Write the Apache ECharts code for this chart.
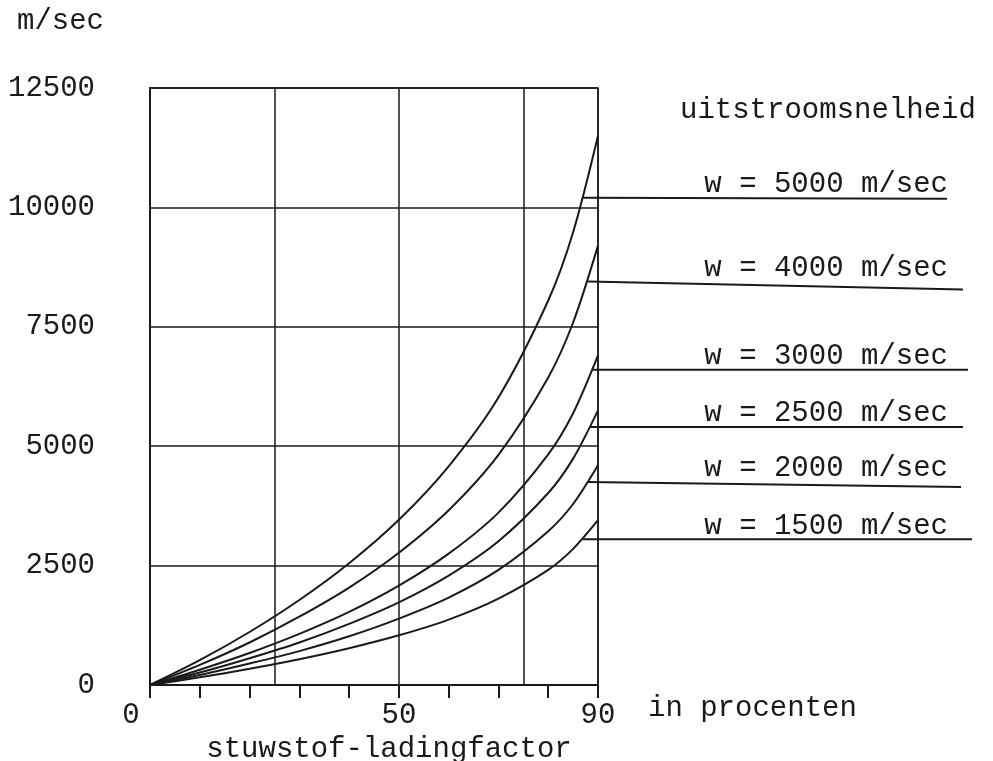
<!DOCTYPE html>
<html>
<head>
<meta charset="utf-8">
<script src="https://cdn.jsdelivr.net/npm/echarts@6/dist/echarts.min.js"></script>
<style>
  html, body { margin: 0; padding: 0; background: #fff; }
  #myChart { width: 993px; height: 761px; }
</style>
</head>
<body>
<div id="myChart"></div>
<script>
// stuwstof-ladingfactor in procenten
const loadFactor = [0, 10, 20, 30, 40, 50, 60, 70, 80, 85, 90]
const v5000 = [0, 520, 1110, 1780, 2550, 3460, 4580, 6020, 8050, 9480, 11500]
const v4000 = [0, 420, 890, 1430, 2040, 2770, 3660, 4820, 6440, 7590, 9200]
const v3000 = [0, 320, 670, 1070, 1530, 2080, 2750, 3610, 4830, 5690, 6900]
const v2500 = [0, 260, 560, 890, 1280, 1730, 2290, 3010, 4020, 4740, 5750]
const v2000 = [0, 210, 450, 710, 1020, 1390, 1830, 2410, 3220, 3790, 4600]
const v1500 = [0, 160, 340, 540, 770, 1040, 1370, 1810, 2410, 2850, 3450]
const seriesNames = ['w = 5000 m/sec', 'w = 4000 m/sec', 'w = 3000 m/sec', 'w = 2500 m/sec', 'w = 2000 m/sec', 'w = 1500 m/sec']
const seriesValues = [v5000, v4000, v3000, v2500, v2000, v1500]
// tick labels
const xTickLabels = [0, 50, 90]
const yTickLabels = [0, 2500, 5000, 7500, 10000, 12500]
// waar de verwijslijn de kromme raakt (x in %, y in m/sec)
const leaderX = [87, 88, 89, 88.5, 88, 87]
const leaderV = [10200, 8450, 6600, 5400, 4250, 3050]

const FONT = '"Liberation Mono", "DejaVu Sans Mono", monospace'
const INK = '#1a1a1a'

let myChart = echarts.init(document.getElementById('myChart'))

myChart.setOption({
  backgroundColor: '#fff',
  animation: false,
  textStyle: { fontFamily: FONT, color: INK },
  title: {
    text: 'm/sec',
    left: 12,
    top: 2,
    textStyle: { fontFamily: FONT, fontSize: 29, fontWeight: 'normal', color: INK }
  },
  grid: {
    show: true,
    left: 150,
    right: 395,
    top: 88,
    bottom: 76,
    outerBoundsMode: 'none',
    containLabel: false,
    borderColor: INK,
    borderWidth: 1.5
  },
  xAxis: [{
    type: 'value',
    min: 0,
    max: 90,
    interval: 10,
    axisLine: { show: true, lineStyle: { color: INK, width: 2 } },
    axisTick: { show: true, length: 13, lineStyle: { color: INK, width: 2 } },
    splitLine: { show: false },
    axisLabel: {
      margin: 16,
      fontFamily: FONT,
      fontSize: 29,
      color: INK,
      formatter: v => {
        if (!xTickLabels.includes(v)) return ''
        return v === 0 ? '{o|0}' : String(v)
      },
      rich: {
        o: { fontFamily: FONT, fontSize: 29, color: INK, padding: [0, 38, 0, 0] }
      }
    },
    name: 'stuwstof-ladingfactor',
    nameLocation: 'middle',
    nameGap: 40,
    nameTextStyle: { fontFamily: FONT, fontSize: 29, color: INK, padding: [0, 0, 0, 30] }
  }, {
    // verticale rasterlijnen om de 25 %
    type: 'value',
    position: 'bottom',
    min: 0,
    max: 90,
    interval: 25,
    axisLine: { show: false },
    axisTick: { show: false },
    axisLabel: { show: false },
    splitLine: { show: true, lineStyle: { color: INK, width: 1.5 } }
  }],
  yAxis: {
    type: 'value',
    min: 0,
    max: 12500,
    interval: 2500,
    axisLine: { show: true, lineStyle: { color: INK, width: 2 } },
    axisTick: { show: false },
    splitLine: { show: true, lineStyle: { color: INK, width: 1.5 } },
    axisLabel: {
      margin: 55,
      fontFamily: FONT,
      fontSize: 29,
      color: INK,
      formatter: v => yTickLabels.includes(v) ? String(v) : ''
    }
  },
  series: seriesValues.map((vals, i) => ({
    name: seriesNames[i],
    type: 'line',
    xAxisIndex: 0,
    smooth: 0.3,
    symbol: 'none',
    lineStyle: { color: INK, width: 2 },
    data: loadFactor.map((x, j) => [x, vals[j]])
  }))
})

// verwijslijnen en teksten rechts van de grafiek
const lineEndX = [947, 963, 968, 963, 961, 972]
const lineEndDrop = [1, 8, 0, 0, 5, 0]
let graphics = [{
  type: 'text',
  left: 680,
  top: 96,
  style: { text: 'uitstroomsnelheid', font: '29px ' + FONT, fill: INK }
}, {
  type: 'text',
  left: 648,
  top: 694,
  style: { text: 'in procenten', font: '29px ' + FONT, fill: INK }
}]
seriesNames.forEach((name, i) => {
  const p = myChart.convertToPixel({ gridIndex: 0 }, [leaderX[i], leaderV[i]])
  const y2 = p[1] + lineEndDrop[i]
  graphics.push({
    type: 'line',
    shape: { x1: p[0], y1: p[1], x2: lineEndX[i], y2: y2 },
    style: { stroke: INK, lineWidth: 2 }
  })
  graphics.push({
    type: 'text',
    x: 948,
    y: Math.min(p[1], y2) + 1,
    style: { text: name, font: '29px ' + FONT, fill: INK, align: 'right', verticalAlign: 'bottom' }
  })
})
myChart.setOption({ graphic: graphics })
</script>
</body>
</html>
